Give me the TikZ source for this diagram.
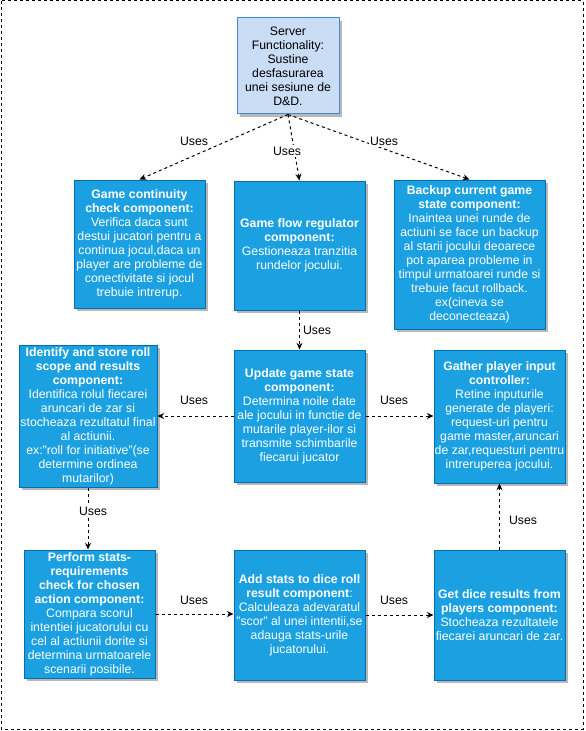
\documentclass[tikz,border=0pt]{standalone}
\usepackage{fontspec}
\setmainfont{Liberation Sans}
\usetikzlibrary{arrows.meta,shadows}
\definecolor{boxfill}{HTML}{1BA1E2}
\definecolor{boxline}{HTML}{006EAF}
\definecolor{topfill}{HTML}{C9DDF5}
\definecolor{topline}{HTML}{4A86D8}
\definecolor{shad}{HTML}{B8B8B8}
\begin{document}
\begin{tikzpicture}[x=0.75pt,y=-0.75pt,
  sz/.style 2 args={minimum width={#1*0.75pt}, minimum height={#2*0.75pt}},
  basebox/.style={line width=0.75pt, align=center, inner sep=0pt,
    font=\fontsize{9.2}{10.5}\selectfont,
    drop shadow={shadow xshift=2.2pt, shadow yshift=-2.2pt, fill=shad, opacity=1}},
  comp/.style={basebox, draw=boxline, fill=boxfill, text=white},
  topbox/.style={basebox, draw=topline, fill=topfill, text=black},
  uses/.style={draw, line width=0.75pt, dash pattern=on 2.25pt off 2.25pt,
    -{Stealth[length=5pt,width=4.5pt]}},
  lab/.style={fill=white, inner sep=1pt, font=\fontsize{9.2}{10}\selectfont}]
\useasboundingbox (0,0) rectangle (585,731);
\draw[line width=0.75pt, dash pattern=on 2.25pt off 2.25pt] (1,1) rectangle (583,729);

\node[topbox, sz={102}{96}] (srv) at (288,66) {Server\\Functionality:\\Sustine\\desfasurarea\\unei sesiune de\\D\&D.};

\node[comp, sz={131}{128}] (gc) at (139.5,244) {\textbf{Game continuity}\\\textbf{check component:}\\Verifica daca sunt\\destui jucatori pentru a\\continua jocul,daca un\\player are probleme de\\conectivitate si jocul\\trebuie intrerup.};
\node[comp, sz={131}{129}] (gf) at (299.5,245.5) {\textbf{Game flow regulator}\\\textbf{component:}\\Gestioneaza tranzitia\\rundelor jocului.};
\node[comp, sz={151}{149}] (bk) at (469.5,254.5) {\textbf{Backup current game}\\\textbf{state component:}\\Inaintea unei runde de\\actiuni se face un backup\\al starii jocului deoarece\\pot aparea probleme in\\timpul urmatoarei runde si\\trebuie facut rollback.\\ex(cineva se\\deconecteaza)};

\node[comp, sz={138}{142}] (id) at (88,416) {\textbf{Identify and store roll}\\\textbf{scope and results}\\\textbf{component:}\\Identifica rolul fiecarei\\aruncari de zar si\\stocheaza rezultatul final\\al actiunii.\\ex:"roll for initiative"(se\\determine ordinea\\mutarilor)};
\node[comp, sz={131}{132}] (up) at (299.5,416) {\textbf{Update game state}\\\textbf{component:}\\Determina noile date\\ale jocului in functie de\\mutarile player-ilor si\\transmite schimbarile\\fiecarui jucator};
\node[comp, sz={131}{133}] (ga) at (499.5,416.5) {\textbf{Gather player input}\\\textbf{controller:}\\Retine inputurile\\generate de playeri:\\request-uri pentru\\game master,aruncari\\de zar,requesturi pentru\\intreruperea jocului.};

\node[comp, sz={131}{128}] (pf) at (89.5,614) {\textbf{Perform stats-}\\\textbf{requirements}\\\textbf{check for chosen}\\\textbf{action component:}\\Compara scorul\\intentiei jucatorului cu\\cel al actiunii dorite si\\determina urmatoarele\\scenarii posibile.};
\node[comp, sz={131}{130}] (ad) at (299.5,615) {\textbf{Add stats to dice roll}\\\textbf{result component}:\\Calculeaza adevaratul\\"scor" al unei intentii,se\\adauga stats-urile\\jucatorului.};
\node[comp, sz={131}{130}] (gd) at (499.5,615) {\textbf{Get dice results from}\\\textbf{players component:}\\Stocheaza rezultatele\\fiecarei aruncari de zar.};

\draw[uses] (srv.south) -- (gc.north);
\draw[uses] (srv.south) -- (gf.north);
\draw[uses] (srv.south) -- (bk.north);
\draw[uses] (gf.south) -- (up.north);
\draw[uses] (up.west) -- (id.east);
\draw[uses] (up.east) -- (up.east -| ga.west);
\draw[uses] (id.south) -- (id.south |- pf.north);
\draw[uses] (pf.east) -- (pf.east -| ad.west);
\draw[uses] (ad.east) -- (gd.west);
\draw[uses] (gd.north) -- (ga.south);

\node[lab] (l1) at (194,141) {Uses};
\node[lab] (l2) at (287,151) {Uses};
\node[lab] (l3) at (384,141) {Uses};
\node[lab] (l4) at (317,330) {Uses};
\node[lab] (l5) at (194,400) {Uses};
\node[lab] (l6) at (394,400) {Uses};
\node[lab] (l7) at (93,511) {Uses};
\node[lab] (l8) at (194,600) {Uses};
\node[lab] (l9) at (394,600) {Uses};
\node[lab] (l10) at (523,520) {Uses};
\end{tikzpicture}
\end{document}
